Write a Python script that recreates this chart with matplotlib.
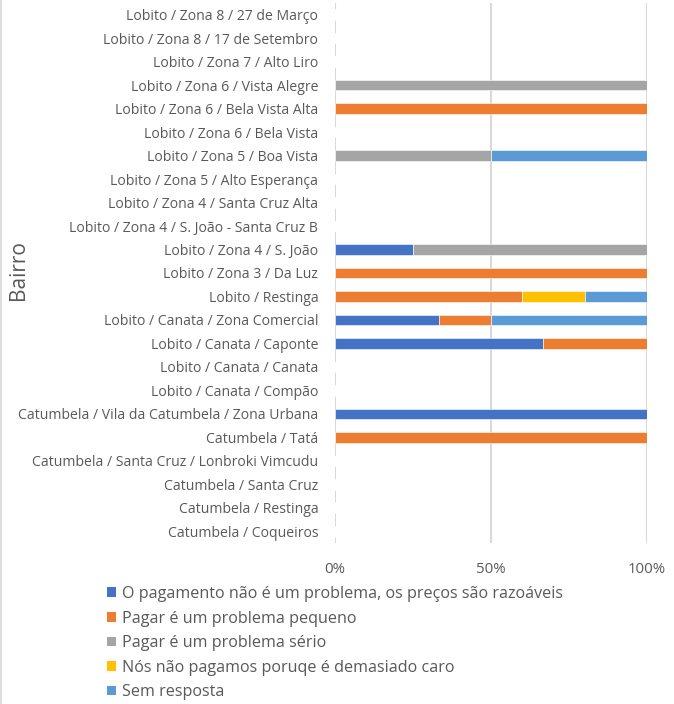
import matplotlib
matplotlib.use("Agg")
import matplotlib.pyplot as plt
from matplotlib.patches import Patch
from matplotlib.lines import Line2D
import numpy as np

categories = [
    "Lobito / Zona 8 / 27 de Março",
    "Lobito / Zona 8 / 17 de Setembro",
    "Lobito / Zona 7 / Alto Liro",
    "Lobito / Zona 6 / Vista Alegre",
    "Lobito / Zona 6 / Bela Vista Alta",
    "Lobito / Zona 6 / Bela Vista",
    "Lobito / Zona 5 / Boa Vista",
    "Lobito / Zona 5 / Alto Esperança",
    "Lobito / Zona 4 / Santa Cruz Alta",
    "Lobito / Zona 4 / S. João - Santa Cruz B",
    "Lobito / Zona 4 / S. João",
    "Lobito / Zona 3 / Da Luz",
    "Lobito / Restinga",
    "Lobito / Canata / Zona Comercial",
    "Lobito / Canata / Caponte",
    "Lobito / Canata / Canata",
    "Lobito / Canata / Compão",
    "Catumbela / Vila da Catumbela / Zona Urbana",
    "Catumbela / Tatá",
    "Catumbela / Santa Cruz / Lonbroki Vimcudu",
    "Catumbela / Santa Cruz",
    "Catumbela / Restinga",
    "Catumbela / Coqueiros",
]

series_names = [
    "O pagamento não é um problema, os preços são razoáveis",
    "Pagar é um problema pequeno",
    "Pagar é um problema sério",
    "Nós não pagamos poruqe é demasiado caro",
    "Sem resposta",
]
colors = ["#4472C4", "#ED7D31", "#A5A5A5", "#FFC000", "#5B9BD5"]

# values in fractions (top-to-bottom category order)
s_ok =      [0, 0, 0, 0, 0, 0, 0, 0, 0, 0, 0.25, 0, 0, 1/3, 2/3, 0, 0, 1, 0, 0, 0, 0, 0]
s_small =   [0, 0, 0, 0, 1, 0, 0, 0, 0, 0, 0, 1, 0.6, 1/6, 1/3, 0, 0, 0, 1, 0, 0, 0, 0]
s_serious = [0, 0, 0, 1, 0, 0, 0.5, 0, 0, 0, 0.75, 0, 0, 0, 0, 0, 0, 0, 0, 0, 0, 0, 0]
s_nopay =   [0, 0, 0, 0, 0, 0, 0, 0, 0, 0, 0, 0, 0.2, 0, 0, 0, 0, 0, 0, 0, 0, 0, 0]
s_none =    [0, 0, 0, 0, 0, 0, 0.5, 0, 0, 0, 0, 0, 0.2, 0.5, 0, 0, 0, 0, 0, 0, 0, 0, 0]
series = [s_ok, s_small, s_serious, s_nopay, s_none]

xticks = [0, 0.5, 1.0]
xticklabels = ["0%", "50%", "100%"]

W, H = 674, 704
fig = plt.figure(figsize=(W / 100, H / 100), dpi=100)
plt.rcParams['font.family'] = ['Open Sans', 'DejaVu Sans']
txt = "#595959"

left, right, top, bottom = 335, 647, 3, 543
ax = fig.add_axes([left / W, 1 - bottom / H, (right - left) / W, (bottom - top) / H])

n = len(categories)
y = np.arange(n)
cum = np.zeros(n)
for vals, col, name in zip(series, colors, series_names):
    v = np.array(vals, dtype=float)
    ax.barh(y, v, left=cum, height=0.45, color=col, edgecolor="white", linewidth=0.4, zorder=3)
    cum += v

ax.set_ylim(n - 0.5, -0.5)
ax.set_xlim(0, 1.0)
ax.set_yticks(y)
ax.set_yticklabels(categories, fontsize=10.05, color=txt)
ax.set_xticks(xticks)
ax.set_xticklabels(xticklabels, fontsize=10.8, color=txt)
ax.tick_params(axis="both", length=0)
ax.tick_params(axis="y", pad=12)
ax.tick_params(axis="x", pad=14)
for s in ax.spines.values():
    s.set_visible(False)
ax.xaxis.grid(True, color="#D9D9D9", linewidth=1.5, zorder=0)
ax.set_axisbelow(True)

fig.text(19 / W, 1 - 270 / H, "Bairro", rotation=90, fontsize=15, color=txt,
         ha="center", va="center")

handles = [Patch(facecolor=c, edgecolor="none") for c in colors]
leg = fig.legend(handles, series_names, loc="upper left",
                 bbox_to_anchor=(107 / W, 1 - 586 / H), frameon=False,
                 fontsize=11.6, handlelength=0.55, handleheight=0.55,
                 handletextpad=0.4, labelspacing=0.53, borderaxespad=0, borderpad=0)
for t in leg.get_texts():
    t.set_color(txt)

fig.add_artist(Line2D([0.6 / W, 0.6 / W], [0, 1], transform=fig.transFigure,
                      color="#D9D9D9", linewidth=1.2))

fig.savefig("out.png", dpi=100)
